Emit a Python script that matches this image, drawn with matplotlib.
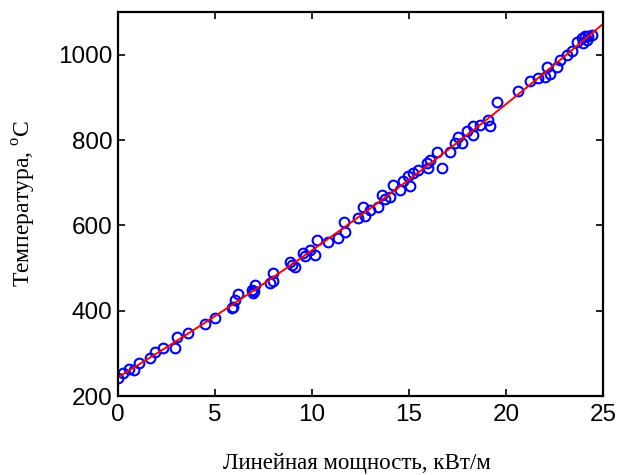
import numpy as np
import matplotlib
matplotlib.use("Agg")
import matplotlib.pyplot as plt

# Measured temperature vs. linear power
power_kw_m = [
    0.02, 0.27, 0.58, 0.82, 1.10, 1.65, 1.91, 2.34, 2.94, 3.02, 3.63, 4.48, 5.00,
    5.86, 5.91, 6.03, 6.20, 6.89, 6.98, 7.02, 7.06, 7.84, 8.00, 8.00, 8.87, 8.95,
    9.12, 9.55, 9.64, 9.90, 10.15, 10.24, 10.84, 11.36, 11.65, 11.70,
    12.39, 12.65, 12.73, 12.99, 13.42, 13.59, 13.76, 14.02, 14.19, 14.54, 14.71,
    14.96, 15.05, 15.22, 15.48, 15.91, 16.00, 16.08, 16.43, 16.68, 17.11, 17.37,
    17.54, 17.71, 17.97, 18.32, 18.32, 18.66, 19.09, 19.18, 19.52, 20.64, 21.24,
    21.67, 22.01, 22.10, 22.27, 22.61, 22.78, 23.13, 23.38, 23.64, 23.90, 23.98,
    24.07, 24.16, 24.24, 24.41,
]
temperature_c = [
    242, 255, 263, 261, 278, 288, 302, 312, 312, 339, 347, 369, 382,
    406, 408, 425, 439, 449, 441, 445, 460, 466, 470, 488, 515, 507,
    502, 535, 527, 542, 531, 566, 562, 570, 609, 585,
    617, 643, 621, 636, 643, 672, 661, 667, 695, 683, 703,
    716, 693, 722, 730, 746, 734, 754, 773, 734, 773, 793,
    808, 793, 820, 832, 812, 836, 847, 832, 889, 914, 939,
    945, 947, 970, 955, 972, 988, 1000, 1008, 1030, 1039, 1027,
    1043, 1034, 1043, 1045,
]

x_ticks = [0, 5, 10, 15, 20, 25]
y_ticks = [200, 400, 600, 800, 1000]

x = np.asarray(power_kw_m)
y = np.asarray(temperature_c)

# Second-order least-squares approximation
coef = np.polyfit(x, y, 2)
xf = np.linspace(0, 25, 300)
yf = np.polyval(coef, xf)

fig = plt.figure(figsize=(6.19, 4.75), dpi=100)
ax = fig.add_axes([0.1906, 0.1663, 0.7835, 0.8084])

ax.plot(x, y, linestyle="none", marker="o", markersize=7.0,
        markerfacecolor="none", markeredgecolor="#0000ff", markeredgewidth=1.5)
ax.plot(xf, yf, color="#ff0000", linewidth=1.4)

ax.set_xlim(0, 25)
ax.set_ylim(200, 1100)
ax.set_xticks(x_ticks)
ax.set_yticks(y_ticks)

for s in ax.spines.values():
    s.set_linewidth(1.6)
    s.set_color("black")

ax.tick_params(direction="in", length=5, width=1.2, top=True, right=True,
               labelsize=17.5)
ax.tick_params(axis="x", pad=6)
ax.tick_params(axis="y", pad=4)
for lab in ax.get_xticklabels() + ax.get_yticklabels():
    lab.set_family("Liberation Sans")

fig.text(357 / 619, 1 - 464 / 475, "Линейная мощность, кВт/м",
         family="Liberation Serif", fontsize=16.5, ha="center", va="center")
fig.text(24 / 619, 1 - 203 / 475, "Температура, $^\\mathregular{o}$C",
         family="Liberation Serif", fontsize=17, ha="center", va="center",
         rotation=90)

fig.savefig("out.png", dpi=100)
